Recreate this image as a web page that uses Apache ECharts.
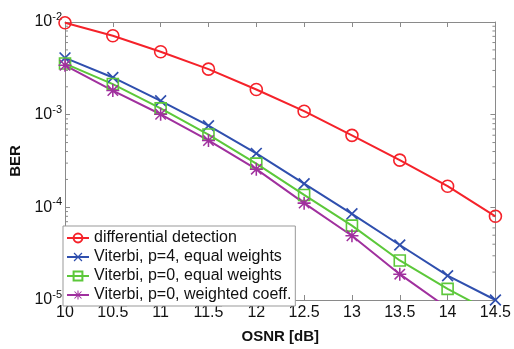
<!DOCTYPE html>
<html>
<head>
<meta charset="utf-8">
<script src="https://cdn.jsdelivr.net/npm/echarts@6/dist/echarts.min.js"></script>
<style>
  html, body { margin: 0; padding: 0; background: #fff; }
  #chart { width: 514px; height: 349px; }
</style>
</head>
<body>
<div id="chart"></div>
<script>
const osnr = [10, 10.5, 11, 11.5, 12, 12.5, 13, 13.5, 14, 14.5];
const differential = [9.8e-3, 7.1e-3, 4.78e-3, 3.1e-3, 1.87e-3, 1.09e-3, 5.98e-4, 3.23e-4, 1.69e-4, 8.0e-5];
const viterbiP4 = [4.1e-3, 2.52e-3, 1.41e-3, 7.6e-4, 3.82e-4, 1.8e-4, 8.5e-5, 3.92e-5, 1.83e-5, 1.0e-5];
const viterbiP0 = [3.56e-3, 2.14e-3, 1.17e-3, 6.1e-4, 2.96e-4, 1.36e-4, 6.35e-5, 2.67e-5, 1.32e-5, 7.0e-6];
const viterbiWeighted = [3.41e-3, 1.82e-3, 1.01e-3, 5.27e-4, 2.58e-4, 1.11e-4, 4.94e-5, 1.9e-5, 8.2e-6, 3.5e-6];
const names = [
  'differential detection',
  'Viterbi, p=4, equal weights',
  'Viterbi, p=0, equal weights',
  'Viterbi, p=0, weighted coeff.'
];
const minorTicks = [];
[1e-5, 1e-4, 1e-3].forEach(d => {
  for (let k = 2; k <= 9; k++) minorTicks.push(k * d);
});

const xMark = 'path://M0,1 L1,0 L10,9 L9,10 Z M9,0 L10,1 L1,10 L0,9 Z';
const starMark = 'path://M4.4,0 h1.2 v10 h-1.2 Z M0,4.4 h10 v1.2 h-10 Z M0.6,1.4 L1.4,0.6 L9.4,8.6 L8.6,9.4 Z M8.6,0.6 L9.4,1.4 L1.4,9.4 L0.6,8.6 Z';

const red = '#f5222a';
const blue = '#2f4fae';
const green = '#5cc83a';
const purple = '#a0309e';
const axisGray = '#8a8a8a';
const font = 'Arial, "Liberation Sans", Helvetica, sans-serif';

function pairs(ys) {
  return osnr.map((x, i) => [x, ys[i]]);
}

const chart = echarts.init(document.getElementById('chart'));
const option = {
  animation: false,
  textStyle: { fontFamily: font },
  grid: { left: 60, top: 22, right: 17, bottom: 40 },
  legend: {
    orient: 'vertical',
    left: 63,
    top: 226,
    data: names,
    backgroundColor: '#fff',
    borderColor: '#999',
    borderWidth: 1,
    padding: [4, 4, 3, 3],
    itemGap: 3,
    itemWidth: 22,
    itemHeight: 11,
    textStyle: { fontSize: 16, color: '#111', fontFamily: font }
  },
  xAxis: [
    {
      type: 'value', min: 10, max: 14.5, interval: 0.5,
      name: 'OSNR [dB]', nameLocation: 'middle', nameGap: 29,
      nameTextStyle: { fontSize: 15, fontWeight: 'bold', color: '#111' },
      axisLine: { lineStyle: { color: axisGray } },
      axisTick: { inside: true, length: 5, lineStyle: { color: axisGray } },
      axisLabel: { fontSize: 16, color: '#111', margin: 5 },
      splitLine: { show: false }
    },
    {
      type: 'value', min: 10, max: 14.5, interval: 0.5, position: 'top',
      axisLine: { lineStyle: { color: axisGray } },
      axisTick: { inside: true, length: 5, lineStyle: { color: axisGray } },
      axisLabel: { show: false },
      splitLine: { show: false }
    }
  ],
  yAxis: [
    {
      type: 'log', logBase: 10, min: 1e-5, max: 1e-2,
      name: 'BER', nameLocation: 'middle', nameGap: 42,
      nameTextStyle: { fontSize: 15, fontWeight: 'bold', color: '#111' },
      axisLine: { show: true, lineStyle: { color: axisGray } },
      axisTick: { inside: true, length: 5, lineStyle: { color: axisGray } },
      axisLabel: {
        margin: 3,
        formatter: v => '{b|10}{s|' + Math.round(Math.log10(v)) + '}',
        rich: {
          b: { fontSize: 16, color: '#111', fontFamily: font },
          s: { fontSize: 11, color: '#111', fontFamily: font, padding: [0, 0, 10, 0] }
        }
      },
      splitLine: { show: false }
    },
    {
      type: 'log', logBase: 10, min: 1e-5, max: 1e-2, position: 'right',
      axisLine: { show: true, lineStyle: { color: axisGray } },
      axisTick: { inside: true, length: 5, lineStyle: { color: axisGray } },
      axisLabel: { show: false },
      splitLine: { show: false }
    }
  ],
  series: [
    {
      name: names[0], type: 'line', data: pairs(differential),
      symbol: 'circle', symbolSize: 12,
      lineStyle: { width: 2, color: red },
      itemStyle: { color: 'rgba(255,255,255,0)', borderColor: red, borderWidth: 1.6 }
    },
    {
      name: names[1], type: 'line', data: pairs(viterbiP4),
      symbol: xMark, symbolSize: 12,
      color: blue,
      lineStyle: { width: 2 }
    },
    {
      name: names[2], type: 'line', data: pairs(viterbiP0),
      symbol: 'rect', symbolSize: 11,
      lineStyle: { width: 2, color: green },
      itemStyle: { color: 'rgba(255,255,255,0)', borderColor: green, borderWidth: 1.6 }
    },
    {
      name: names[3], type: 'line', data: pairs(viterbiWeighted),
      symbol: starMark, symbolSize: 13,
      color: purple,
      lineStyle: { width: 2 }
    },
    {
      type: 'custom', silent: true, clip: false,
      data: minorTicks.map(v => [10, v]),
      renderItem: (params, api) => {
        const cs = params.coordSys;
        const y = api.coord([10, api.value(1)])[1];
        const style = { stroke: axisGray, lineWidth: 1 };
        return {
          type: 'group',
          children: [
            { type: 'line', shape: { x1: cs.x, y1: y, x2: cs.x + 3, y2: y }, style },
            { type: 'line', shape: { x1: cs.x + cs.width, y1: y, x2: cs.x + cs.width - 3, y2: y }, style }
          ]
        };
      }
    }
  ]
};
chart.setOption(option);
</script>
</body>
</html>
